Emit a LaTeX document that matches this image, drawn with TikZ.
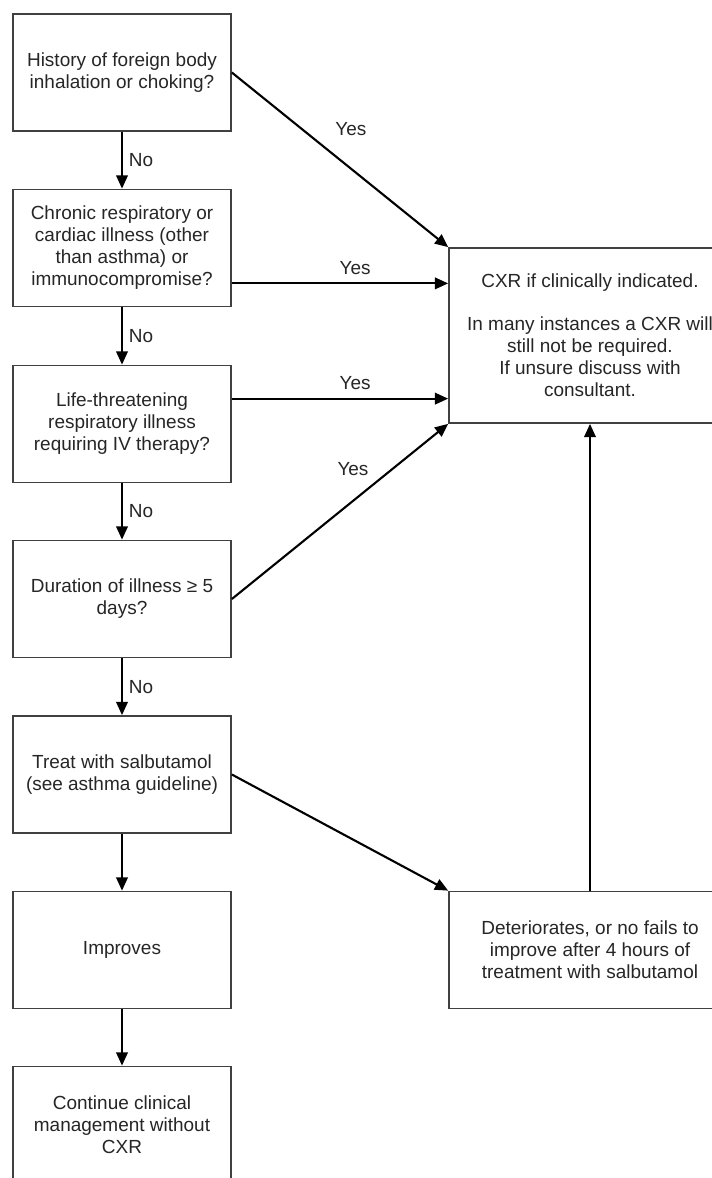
\documentclass[tikz,border=0pt]{standalone}
\usepackage{fontspec}
\setmainfont{Liberation Sans}
\usetikzlibrary{arrows.meta}

\begin{document}
\begin{tikzpicture}[x=0.02cm,y=-0.02cm,
  box/.style={draw=black!75,line width=1pt,align=center,inner sep=0pt,
    minimum width=4.36cm,minimum height=2.34cm,text=black!85,
    font=\fontsize{10.8}{12.5}\selectfont},
  bigbox/.style={box,minimum width=5.64cm},
  arr/.style={line width=1.2pt,-{Triangle[length=7.5pt,width=6.5pt]}},
  lbl/.style={text=black!85,font=\fontsize{10.8}{12.5}\selectfont}]
\useasboundingbox (0,0) rectangle (712,1178);
\clip (0,0) rectangle (712,1178);
\fill[white] (0,0) rectangle (712,1178);

% left column
\node[box] (q1) at (122,72.5) {History of foreign body\\inhalation or choking?};
\node[box] (q2) at (122,248) {Chronic respiratory or\\cardiac illness (other\\than asthma) or\\immunocompromise?};
\node[box] (q3) at (122,424) {Life-threatening\\respiratory illness\\requiring IV therapy?};
\node[box] (q4) at (122,599) {Duration of illness ≥ 5\\days?};
\node[box] (treat) at (122,774.5) {Treat with salbutamol\\(see asthma guideline)};
\node[box] (improves) at (122,950) {Improves};
\node[box] (cont) at (122,1125) {Continue clinical\\management without\\CXR};

% right column
\node[bigbox,minimum height=3.5cm] (cxr) at (590,335.5) {CXR if clinically indicated.\\[12pt]In many instances a CXR will\\still not be required.\\If unsure discuss with\\consultant.};
\node[bigbox] (det) at (590,950) {Deteriorates, or no fails to\\improve after 4 hours of\\treatment with salbutamol};

% No arrows
\draw[arr] (q1.south) -- node[lbl,right]{No} (q2.north);
\draw[arr] (q2.south) -- node[lbl,right]{No} (q3.north);
\draw[arr] (q3.south) -- node[lbl,right]{No} (q4.north);
\draw[arr] (q4.south) -- node[lbl,right]{No} (treat.north);
\draw[arr] (treat.south) -- (improves.north);
\draw[arr] (improves.south) -- (cont.north);

% Yes arrows
\coordinate (y2) at ([yshift=0.48cm]q2.south east);
\coordinate (y3) at ([yshift=-0.68cm]q3.north east);
\draw[arr] (q1.east) -- node[lbl,pos=0.55,yshift=0.8cm]{Yes} (cxr.north west);
\draw[arr] (y2) -- node[lbl,pos=0.57,above=1pt]{Yes} (y2 -| cxr.west);
\draw[arr] (y3) -- node[lbl,pos=0.57,above=1pt]{Yes} (y3 -| cxr.west);
\draw[arr] (q4.east) -- node[lbl,pos=0.56,yshift=0.64cm]{Yes} (cxr.south west);

\draw[arr] (treat.east) -- (det.north west);
\draw[arr] (det.north) -- (cxr.south);
\end{tikzpicture}
\end{document}
